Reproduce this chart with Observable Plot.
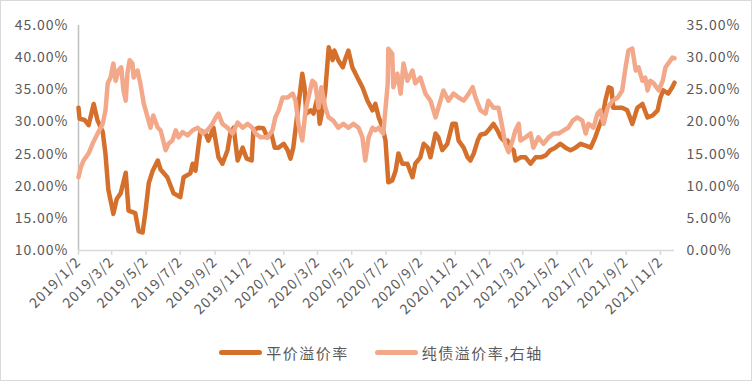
<!DOCTYPE html>
<html>
<head>
<meta charset="utf-8">
<script src="https://cdn.jsdelivr.net/npm/d3@7"></script>
<script src="https://cdn.jsdelivr.net/npm/@observablehq/plot@0.6"></script>
<style>
  body { margin: 0; background: #fff; }
  #frame { position: relative; width: 752px; height: 381px; box-sizing: border-box; border: 1px solid #d9d9d9; background: #fff; overflow: hidden; }
  #chart { position: absolute; left: 0; top: 0; }
  #legend { position: absolute; left: 0; top: 340px; width: 750px; height: 22px; display: flex; justify-content: center; align-items: center; gap: 26px; padding-left: 10px; box-sizing: border-box;
            font-family: "Noto Sans CJK SC", sans-serif; font-size: 15px; letter-spacing: 1.5px; color: #595959; }
  .item { display: flex; align-items: center; gap: 4px; }
  .sw { width: 43px; height: 5px; border-radius: 3px; }
</style>
</head>
<body>
<div id="frame">
  <div id="chart"></div>
  <div id="legend"></div>
</div>
<script>
// 平价溢价率 (left axis, %)
const parDates = ["2019-01-02","2019-01-04","2019-01-13","2019-01-20","2019-01-29","2019-02-05","2019-02-14","2019-02-19","2019-02-24","2019-03-02","2019-03-05","2019-03-11","2019-03-18","2019-03-27","2019-04-01","2019-04-13","2019-04-19","2019-04-26","2019-05-01","2019-05-07","2019-05-14","2019-05-23","2019-05-28","2019-06-09","2019-06-20","2019-07-02","2019-07-08","2019-07-20","2019-07-24","2019-07-29","2019-08-03","2019-08-07","2019-08-16","2019-08-21","2019-08-30","2019-09-08","2019-09-15","2019-09-24","2019-09-29","2019-10-05","2019-10-12","2019-10-21","2019-10-28","2019-11-06","2019-11-09","2019-11-18","2019-11-27","2019-12-04","2019-12-11","2019-12-17","2019-12-24","2020-01-02","2020-01-09","2020-01-14","2020-01-19","2020-01-27","2020-02-04","2020-02-08","2020-02-11","2020-02-19","2020-02-24","2020-03-02","2020-03-06","2020-03-11","2020-03-16","2020-03-22","2020-03-29","2020-04-01","2020-04-08","2020-04-16","2020-04-21","2020-04-26","2020-05-03","2020-05-12","2020-05-21","2020-05-30","2020-06-08","2020-06-13","2020-06-19","2020-06-26","2020-07-01","2020-07-06","2020-07-13","2020-07-19","2020-07-24","2020-07-31","2020-08-09","2020-08-18","2020-08-23","2020-09-01","2020-09-07","2020-09-14","2020-09-19","2020-09-28","2020-10-03","2020-10-10","2020-10-19","2020-10-28","2020-11-03","2020-11-08","2020-11-17","2020-11-24","2020-11-29","2020-12-05","2020-12-12","2020-12-17","2020-12-26","2020-12-31","2021-01-09","2021-01-16","2021-01-22","2021-01-27","2021-02-03","2021-02-08","2021-02-14","2021-02-17","2021-02-26","2021-03-07","2021-03-16","2021-03-25","2021-04-03","2021-04-12","2021-04-20","2021-04-29","2021-05-08","2021-05-17","2021-05-26","2021-06-04","2021-06-13","2021-06-22","2021-07-01","2021-07-09","2021-07-15","2021-07-22","2021-07-27","2021-08-02","2021-08-07","2021-08-10","2021-08-18","2021-08-26","2021-09-04","2021-09-13","2021-09-22","2021-10-01","2021-10-10","2021-10-19","2021-10-28","2021-11-02","2021-11-07","2021-11-16","2021-11-23","2021-11-27"];
const parRate = [32.2,30.5,30.3,29.5,32.8,30.2,28.5,25.0,19.5,17.0,15.7,18.0,18.9,22.1,16.2,15.8,13.0,12.8,16.0,20.5,22.4,24.0,22.6,21.4,18.9,18.3,21.4,22.0,23.5,22.4,26.0,28.7,28.2,27.1,29.1,24.5,23.5,25.6,28.2,29.1,24.0,26.0,24.3,24.0,28.7,29.1,29.0,27.6,28.2,26.0,26.0,26.6,25.6,24.3,26.0,31.8,37.5,35.4,31.3,31.8,31.3,33.8,29.7,31.8,34.9,41.6,39.6,41.1,39.6,38.5,39.9,41.1,38.5,36.9,35.4,33.3,31.8,32.8,30.7,29.1,27.1,20.6,20.9,22.4,25.1,23.5,23.5,21.4,23.5,24.5,26.6,26.0,24.5,28.2,27.6,25.6,26.6,29.7,29.7,27.1,26.0,24.5,24.0,25.1,27.1,28.0,28.2,28.7,29.7,28.7,27.6,27.1,27.1,26.0,25.6,24.0,24.5,24.5,23.5,24.5,24.5,24.8,25.6,26.0,26.6,26.0,25.6,26.0,26.6,26.3,26.0,27.6,29.1,30.7,33.3,35.4,35.2,32.2,32.2,32.2,31.8,29.7,32.2,32.8,30.7,31.0,31.8,33.8,34.9,34.4,35.4,36.1];

// 纯债溢价率 (right axis, %)
const bondDates = ["2019-01-02","2019-01-06","2019-01-11","2019-01-20","2019-01-27","2019-02-05","2019-02-14","2019-02-19","2019-02-23","2019-02-28","2019-03-05","2019-03-09","2019-03-14","2019-03-19","2019-03-23","2019-03-27","2019-03-30","2019-04-03","2019-04-08","2019-04-10","2019-04-17","2019-04-22","2019-04-28","2019-05-05","2019-05-10","2019-05-15","2019-05-23","2019-05-28","2019-06-06","2019-06-11","2019-06-18","2019-06-24","2019-06-29","2019-07-06","2019-07-15","2019-07-24","2019-08-02","2019-08-11","2019-08-19","2019-08-28","2019-09-03","2019-09-08","2019-09-15","2019-09-24","2019-10-03","2019-10-12","2019-10-21","2019-10-30","2019-11-07","2019-11-13","2019-11-22","2019-12-04","2019-12-13","2019-12-18","2019-12-24","2019-12-31","2020-01-09","2020-01-18","2020-01-23","2020-01-28","2020-02-04","2020-02-10","2020-02-15","2020-02-22","2020-02-27","2020-03-04","2020-03-09","2020-03-16","2020-03-22","2020-03-30","2020-04-08","2020-04-17","2020-04-26","2020-05-05","2020-05-14","2020-05-21","2020-05-26","2020-06-01","2020-06-08","2020-06-13","2020-06-19","2020-06-22","2020-06-27","2020-07-05","2020-07-06","2020-07-13","2020-07-15","2020-07-22","2020-07-28","2020-08-02","2020-08-09","2020-08-18","2020-08-23","2020-09-01","2020-09-10","2020-09-19","2020-09-28","2020-10-03","2020-10-12","2020-10-21","2020-10-30","2020-11-08","2020-11-17","2020-11-26","2020-12-03","2020-12-08","2020-12-17","2020-12-26","2020-12-31","2021-01-09","2021-01-18","2021-01-25","2021-01-30","2021-02-05","2021-02-12","2021-02-17","2021-02-23","2021-02-26","2021-03-07","2021-03-16","2021-03-21","2021-03-30","2021-04-08","2021-04-17","2021-04-26","2021-05-05","2021-05-14","2021-05-22","2021-05-30","2021-06-07","2021-06-16","2021-06-22","2021-06-27","2021-07-06","2021-07-13","2021-07-18","2021-07-24","2021-07-31","2021-08-09","2021-08-18","2021-08-26","2021-09-01","2021-09-06","2021-09-13","2021-09-19","2021-09-24","2021-10-01","2021-10-06","2021-10-10","2021-10-15","2021-10-21","2021-10-30","2021-11-06","2021-11-11","2021-11-16","2021-11-23","2021-11-27"];
const bondRate = [11.4,12.9,14.0,15.1,16.6,18.2,19.7,21.8,26.0,26.9,29.1,26.4,28.0,28.5,24.9,23.3,27.5,29.6,29.1,26.9,28.0,26.0,22.9,20.7,19.1,21.0,19.1,18.7,15.6,16.6,17.1,18.7,17.6,18.4,17.9,18.7,19.1,18.2,18.7,19.7,20.7,21.3,19.7,19.1,18.2,19.9,19.1,19.7,19.1,18.2,17.6,17.6,18.7,20.7,21.8,23.8,23.8,24.4,23.3,19.7,17.1,21.8,23.8,26.4,26.0,22.2,25.4,22.2,20.7,20.2,19.1,19.7,19.1,19.7,19.1,17.6,14.0,17.6,19.1,18.7,19.1,18.7,18.2,26.0,31.4,30.6,25.4,27.5,24.4,29.1,26.4,28.0,26.0,26.9,24.4,23.3,20.7,22.2,24.9,23.3,24.4,23.8,23.3,24.4,25.4,23.8,21.8,21.3,23.3,22.2,22.2,19.1,16.6,15.3,17.1,18.7,19.7,17.1,17.6,18.2,16.0,17.6,16.6,17.6,18.2,18.2,18.7,19.1,20.2,20.7,20.2,18.2,19.7,19.1,21.3,21.8,19.7,22.2,23.3,23.8,24.9,28.5,31.1,31.4,28.0,28.5,26.4,26.9,24.9,26.4,26.0,24.9,26.4,28.5,29.1,30.0,29.9];

const leftTicks = [10, 15, 20, 25, 30, 35, 40, 45];
const rightTicks = [0, 5, 10, 15, 20, 25, 30, 35];
const xTicks = ["2019-01-02","2019-03-02","2019-05-02","2019-07-02","2019-09-02","2019-11-02","2020-01-02","2020-03-02","2020-05-02","2020-07-02","2020-09-02","2020-11-02","2021-01-02","2021-03-02","2021-05-02","2021-07-02","2021-09-02","2021-11-02"];
const seriesNames = ["平价溢价率", "纯债溢价率,右轴"];
const colors = ["#D5702C", "#F3A88A"];

// right axis 0–35 maps onto left axis 10–45
const OFFSET = leftTicks[0] - rightTicks[0];

const par = parDates.map((d, i) => ({date: new Date(d), v: parRate[i]}));
const bond = bondDates.map((d, i) => ({date: new Date(d), v: bondRate[i] + OFFSET}));

const pct = v => v.toFixed(2) + "%";
const fmtDate = d => `${d.getUTCFullYear()}/${d.getUTCMonth() + 1}/${d.getUTCDate()}`;

const chart = Plot.plot({
  width: 750,
  height: 330,
  marginLeft: 77,
  marginRight: 77,
  marginTop: 24,
  marginBottom: 81,
  style: {fontFamily: '"Noto Sans CJK SC", sans-serif', fontSize: "14px", letterSpacing: "1px", color: "#595959", background: "transparent"},
  x: {type: "utc", domain: [par[0].date, par[par.length - 1].date]},
  y: {domain: [leftTicks[0], leftTicks[leftTicks.length - 1]], label: null},
  marks: [
    Plot.ruleX([par[0].date], {stroke: "#bfbfbf", strokeWidth: 1.5}),
    Plot.ruleY([leftTicks[0]], {stroke: "#d9d9d9", strokeWidth: 1.5}),
    Plot.axisX({ticks: xTicks.map(d => new Date(d)), tickFormat: fmtDate, tickSize: 5, tickRotate: -45, tickPadding: 4, stroke: "#d9d9d9", fill: "#595959", strokeWidth: 1.5}),
    Plot.axisY({anchor: "left", ticks: leftTicks, tickFormat: pct, tickSize: 0, tickPadding: 10, fill: "#595959"}),
    Plot.axisY({anchor: "right", ticks: rightTicks.map(v => v + OFFSET), tickFormat: v => pct(v - OFFSET), tickSize: 0, tickPadding: 12, fill: "#595959"}),
    Plot.line(par, {x: "date", y: "v", stroke: colors[0], strokeWidth: 4.5, strokeLinejoin: "round", strokeLinecap: "round"}),
    Plot.line(bond, {x: "date", y: "v", stroke: colors[1], strokeWidth: 4.5, strokeLinejoin: "round", strokeLinecap: "round"})
  ]
});
document.getElementById("chart").appendChild(chart);

const legend = document.getElementById("legend");
seriesNames.forEach((name, i) => {
  const item = document.createElement("div");
  item.className = "item";
  const sw = document.createElement("div");
  sw.className = "sw";
  sw.style.background = colors[i];
  const t = document.createElement("span");
  t.textContent = name;
  item.appendChild(sw);
  item.appendChild(t);
  legend.appendChild(item);
});
</script>
</body>
</html>
